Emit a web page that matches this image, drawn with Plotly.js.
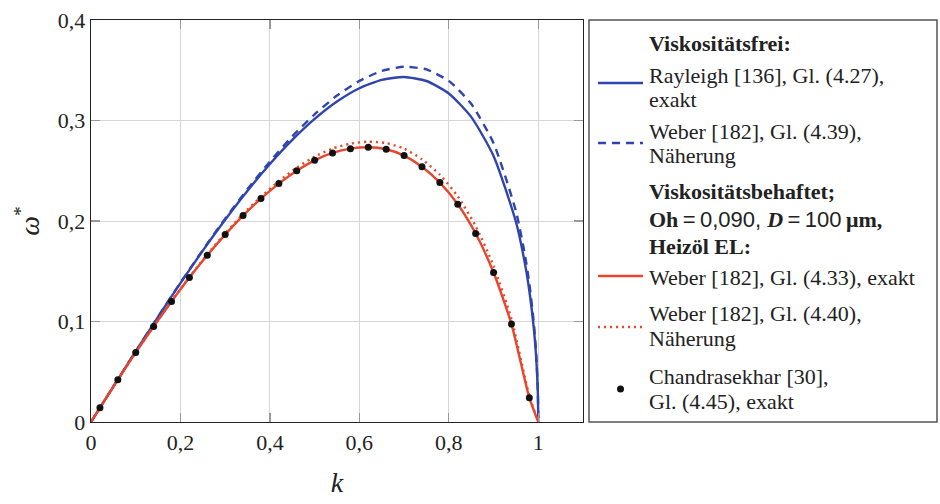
<!DOCTYPE html>
<html>
<head>
<meta charset="utf-8">
<script src="https://cdn.plot.ly/plotly-3.0.1.min.js"></script>
<style>html,body{margin:0;padding:0;background:#fff;}#chart{width:940px;height:504px;}</style>
</head>
<body>
<div id="chart"></div>
<script>
// ---- data ----
const kInviscid = [0,0.05,0.1,0.15,0.2,0.25,0.3,0.35,0.4,0.45,0.5,0.55,0.6,0.65,0.7,0.75,0.8,0.85,0.9,0.95,0.97,0.98,0.99,0.995,0.999,1];
const rayleighExact = [0,0.0353,0.0703,0.1047,0.1382,0.1705,0.2012,0.2301,0.2567,0.2807,0.3016,0.3189,0.3321,0.3405,0.3433,0.3393,0.3269,0.3036,0.2647,0.1992,0.1581,0.1306,0.0934,0.0664,0.0299,0];
const weberInviscidApprox = [0,0.0353,0.0704,0.1049,0.1386,0.1712,0.2024,0.2318,0.2592,0.2842,0.3062,0.3248,0.3394,0.3493,0.3535,0.3508,0.3394,0.3166,0.2774,0.2098,0.1667,0.1379,0.0988,0.0703,0.0316,0];

const kViscous = [0,0.02,0.06,0.10,0.14,0.18,0.22,0.26,0.30,0.34,0.38,0.42,0.46,0.50,0.54,0.58,0.62,0.66,0.70,0.74,0.78,0.82,0.86,0.90,0.94,0.98,1];
const weberViscousExact = [0,0.0142,0.042,0.0692,0.095,0.1199,0.1437,0.166,0.1865,0.2054,0.2223,0.2372,0.2501,0.2604,0.2677,0.272,0.2734,0.2714,0.2651,0.254,0.2382,0.2167,0.1875,0.1487,0.0974,0.0242,0];
const weberViscousApprox = [0,0.0142,0.042,0.0693,0.0952,0.1202,0.1442,0.1668,0.1876,0.2069,0.2243,0.2397,0.2531,0.2641,0.2721,0.277,0.2789,0.2775,0.272,0.2614,0.246,0.2245,0.195,0.1555,0.1025,0.026,0];

const kChandra = [0.02,0.06,0.10,0.14,0.18,0.22,0.26,0.30,0.34,0.38,0.42,0.46,0.50,0.54,0.58,0.62,0.66,0.70,0.74,0.78,0.82,0.86,0.90,0.94,0.98];
const chandraExact = [0.0142,0.042,0.0692,0.095,0.1199,0.1437,0.166,0.1865,0.2054,0.2223,0.2372,0.2501,0.2604,0.2677,0.272,0.2734,0.2714,0.2651,0.254,0.2382,0.2167,0.1875,0.1487,0.0974,0.0242];

const xTicks = [0,0.2,0.4,0.6,0.8,1];
const yTicks = [0,0.1,0.2,0.3,0.4];

// ---- styling ----
const BLUE = '#2f45ad';
const RED = '#e8462c';
const SERIF = 'Liberation Serif, DejaVu Serif, serif';
const SANS = 'Liberation Sans, DejaVu Sans, sans-serif';

const W = 940, H = 504;
const L = 91, R = 583, T = 20, B = 422;
const px = x => (x - L) / (R - L);
const py = y => (B - y) / (B - T);

const traces = [
  {x: kInviscid, y: rayleighExact, mode: 'lines', line: {color: BLUE, width: 2.4, shape: 'spline', smoothing: 0.6}, showlegend: false, hoverinfo: 'skip'},
  {x: kInviscid, y: weberInviscidApprox, mode: 'lines', line: {color: BLUE, width: 2.4, dash: '8px,6px', shape: 'spline', smoothing: 0.6}, showlegend: false, hoverinfo: 'skip'},
  {x: kViscous, y: weberViscousApprox, mode: 'lines', line: {color: RED, width: 2.4, dash: '2px,4px', shape: 'spline', smoothing: 0.6}, showlegend: false, hoverinfo: 'skip'},
  {x: kViscous, y: weberViscousExact, mode: 'lines', line: {color: RED, width: 2.4, shape: 'spline', smoothing: 0.6}, showlegend: false, hoverinfo: 'skip'},
  {x: kChandra, y: chandraExact, mode: 'markers', marker: {color: '#111', size: 7}, showlegend: false, hoverinfo: 'skip'}
];

const textFont = {family: SERIF, size: 22, color: '#222'};
const TS = '\u2009';
const legendLines = [
  ['<b>Viskositätsfrei:</b>', 43],
  ['Rayleigh [136], Gl. (4.27),', 75],
  ['exakt', 99],
  ['Weber [182], Gl. (4.39),', 131],
  ['Näherung', 155],
  ['<b>Viskositätsbehaftet;</b>', 191],
  ['<b>Oh</b><span style="font-family:' + SANS + '">' + TS + '=' + TS + '0,090, </span><b><i>D</i></b><span style="font-family:' + SANS + '">' + TS + '=' + TS + '100' + TS + '</span><b>μm,</b>', 219],
  ['<b>Heizöl EL:</b>', 246],
  ['Weber [182], Gl. (4.33), exakt', 277],
  ['Weber [182], Gl. (4.40),', 313],
  ['Näherung', 338],
  ['Chandrasekhar [30],', 376],
  ['Gl. (4.45), exakt', 401]
];
const annotations = legendLines.map(([t, y]) => ({
  text: t, xref: 'paper', yref: 'paper', x: px(647), y: py(y),
  xanchor: 'left', yanchor: 'middle', showarrow: false, align: 'left', font: textFont
}));

const shapes = [
  {type: 'rect', xref: 'paper', yref: 'paper', x0: px(589), x1: px(937), y0: py(T), y1: py(B), line: {color: '#555', width: 1.5}},
  {type: 'line', xref: 'paper', yref: 'paper', x0: px(598), x1: px(643), y0: py(83), y1: py(83), line: {color: BLUE, width: 2.4}},
  {type: 'line', xref: 'paper', yref: 'paper', x0: px(598), x1: px(643), y0: py(143), y1: py(143), line: {color: BLUE, width: 2.4, dash: '8px,6px'}},
  {type: 'line', xref: 'paper', yref: 'paper', x0: px(598), x1: px(643), y0: py(276), y1: py(276), line: {color: RED, width: 2.4}},
  {type: 'line', xref: 'paper', yref: 'paper', x0: px(598), x1: px(643), y0: py(327), y1: py(327), line: {color: RED, width: 2.4, dash: '2px,4px'}},
  {type: 'circle', xref: 'paper', yref: 'paper', x0: px(617), x1: px(624), y0: py(385.5), y1: py(392.5), fillcolor: '#111', line: {color: '#111', width: 0}}
];

const axisCommon = {
  showgrid: true, gridcolor: '#d6d6d6', gridwidth: 1,
  showline: true, linecolor: '#222', linewidth: 1.3, mirror: 'ticks',
  ticks: 'inside', ticklen: 9, tickcolor: '#999', tickwidth: 1.2,
  zeroline: false, tickfont: {family: SERIF, size: 22, color: '#222'}
};

const layout = {
  width: W, height: H,
  margin: {l: L, r: W - R, t: T, b: H - B},
  paper_bgcolor: '#fff', plot_bgcolor: '#fff',
  separators: ', ',
  showlegend: false,
  xaxis: Object.assign({}, axisCommon, {
    range: [0, 1.1], tickvals: xTicks, ticktext: xTicks.map(v => String(v).replace('.', ',')),
    title: {text: '<i>k</i>', font: {family: SERIF, size: 28, color: '#222'}, standoff: 18}
  }),
  yaxis: Object.assign({}, axisCommon, {
    range: [0, 0.4], tickvals: yTicks, ticktext: yTicks.map(v => String(v).replace('.', ',')),
    title: {text: '<i>ω</i><sup>*</sup>', font: {family: SERIF, size: 28, color: '#222'}, standoff: 10}
  }),
  annotations: annotations,
  shapes: shapes
};

Plotly.newPlot('chart', traces, layout, {staticPlot: true, displayModeBar: false});
</script>
</body>
</html>
